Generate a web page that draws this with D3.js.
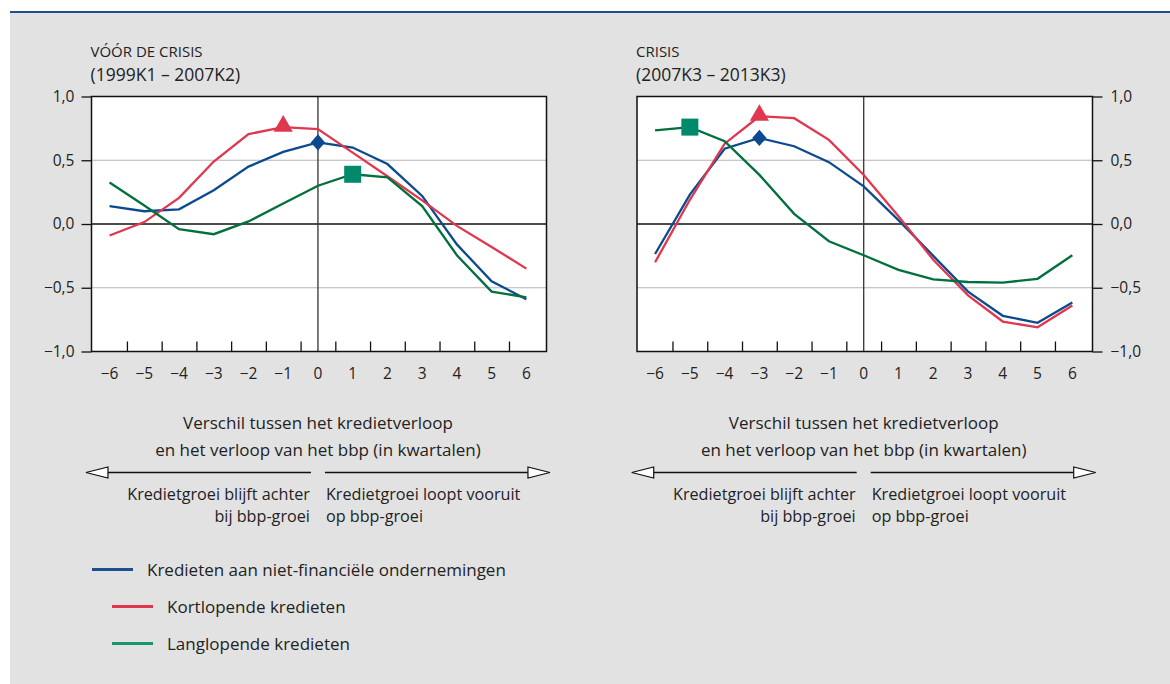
<!DOCTYPE html>
<head>
    <meta charset="utf-8">
    <title>Kredietverloop en bbp</title>
    <style>
        body { margin: 0; background: #fff; }
        text { font-family: "Open Sans", "Noto Sans", sans-serif; fill: #222; }
    </style>
</head>
<body>

<svg width="1170" height="684"></svg>

<script src="https://cdnjs.cloudflare.com/ajax/libs/d3/7.8.5/d3.min.js"></script>

<script>

// kwartalen verschil
var quarters = [-6, -5, -4, -3, -2, -1, 0, 1, 2, 3, 4, 5, 6];
var yTicks = [-1, -0.5, 0, 0.5, 1];
var xTickLabels = ['\u22126', '\u22125', '\u22124', '\u22123', '\u22122', '\u22121', '0', '1', '2', '3', '4', '5', '6'];

// vóór de crisis (1999K1 - 2007K2)
var preTotal = [0.14, 0.10, 0.115, 0.265, 0.45, 0.565, 0.64, 0.60, 0.47, 0.22, -0.16, -0.45, -0.59];
var preShort = [-0.09, 0.015, 0.205, 0.49, 0.705, 0.76, 0.745, 0.56, 0.375, 0.185, -0.015, -0.18, -0.35];
var preLong  = [0.325, 0.145, -0.04, -0.08, 0.02, 0.16, 0.30, 0.39, 0.365, 0.14, -0.245, -0.53, -0.575];

// crisis (2007K3 - 2013K3)
var crisisTotal = [-0.235, 0.23, 0.59, 0.675, 0.61, 0.485, 0.295, 0.03, -0.25, -0.53, -0.72, -0.775, -0.615];
var crisisShort = [-0.30, 0.19, 0.63, 0.845, 0.83, 0.66, 0.385, 0.06, -0.28, -0.56, -0.765, -0.81, -0.64];
var crisisLong  = [0.735, 0.76, 0.65, 0.385, 0.08, -0.135, -0.245, -0.36, -0.435, -0.455, -0.46, -0.43, -0.245];

var seriesNames = ['Kredieten aan niet-financi\u00eble ondernemingen', 'Kortlopende kredieten', 'Langlopende kredieten'];
var lineColors = ['#0b4a8f', '#e0374f', '#00703c'];
var legendColors = ['#1d4f91', '#e0374f', '#16976c'];

var svg = d3.select('svg');

// achtergrond
svg.append('rect')
    .attr('x', 10).attr('y', 13)
    .attr('width', 1160).attr('height', 671)
    .attr('fill', '#e2e2e2');
svg.append('line')
    .attr('x1', 10).attr('x2', 1170)
    .attr('y1', 12).attr('y2', 12)
    .attr('stroke', '#1d4f91').attr('stroke-width', 2);

function panel(opts) {
    var x = d3.scaleLinear().domain([-6.52, 6.58]).range([opts.left, opts.right]);
    var y = d3.scaleLinear().domain([-1, 1]).range([351.5, 96.5]);
    var g = svg.append('g');

    g.append('text').attr('x', opts.left - 1).attr('y', 57).style('font-size', '15px').text(opts.title1);
    g.append('text').attr('x', opts.left - 1).attr('y', 81).style('font-size', '17.5px').text(opts.title2);

    g.append('rect')
        .attr('x', x(-6.52)).attr('y', y(1))
        .attr('width', x(6.58) - x(-6.52)).attr('height', y(-1) - y(1))
        .attr('fill', '#fff');

    // rasterlijnen
    g.selectAll('.grid')
        .data([-0.5, 0.5])
        .enter().append('line')
            .attr('x1', x(-6.52)).attr('x2', x(6.58))
            .attr('y1', d => y(d)).attr('y2', d => y(d))
            .attr('stroke', '#b5b5b5').attr('stroke-width', 1.2);
    g.append('line')
        .attr('x1', x(-6.52)).attr('x2', x(6.58))
        .attr('y1', y(0)).attr('y2', y(0))
        .attr('stroke', '#111').attr('stroke-width', 1.3);
    g.append('line')
        .attr('x1', x(0)).attr('x2', x(0))
        .attr('y1', y(1)).attr('y2', y(-1))
        .attr('stroke', '#333').attr('stroke-width', 1.3);

    // x-as: kleine streepjes tussen de kwartalen
    var half = quarters.slice(1).map(q => q - 0.5);
    var xAxis = d3.axisBottom(x).tickValues(half).tickSize(-10).tickFormat('');
    var xa = g.append('g').attr('transform', `translate(0,${y(-1)})`).call(xAxis);
    xa.select('.domain').remove();
    xa.selectAll('line').attr('stroke', '#111').attr('stroke-width', 1.3);

    g.selectAll('.xlab')
        .data(quarters)
        .enter().append('text')
            .attr('x', d => x(d))
            .attr('y', 379)
            .attr('text-anchor', 'middle')
            .style('font-size', '15.5px')
            .text((d, i) => xTickLabels[i]);

    // y-as
    var fmt = d => (d < 0 ? '\u2212' : '') + d3.format('.1f')(Math.abs(d)).replace('.', ',');
    var yAxis = (opts.rightAxis ? d3.axisRight(y) : d3.axisLeft(y))
        .tickValues(yTicks).tickSize(10).tickPadding(opts.rightAxis ? 8 : 7).tickFormat(fmt);
    var ya = g.append('g')
        .attr('transform', `translate(${opts.rightAxis ? x(6.58) : x(-6.52)},0)`)
        .call(yAxis);
    ya.select('.domain').remove();
    ya.selectAll('line').attr('stroke', '#111').attr('stroke-width', 1.3);
    ya.selectAll('text').style('font-size', '15.5px').attr('fill', '#222')
        .style('font-family', '"Open Sans", sans-serif');

    // lijnen
    var line = d3.line().x((d, i) => x(quarters[i])).y(d => y(d));
    opts.series.forEach((s, k) => {
        g.append('path')
            .datum(s)
            .attr('d', line)
            .attr('fill', 'none')
            .attr('stroke', lineColors[k])
            .attr('stroke-width', 2.3);
    });

    // frame
    g.append('rect')
        .attr('x', x(-6.52)).attr('y', y(1))
        .attr('width', x(6.58) - x(-6.52)).attr('height', y(-1) - y(1))
        .attr('fill', 'none').attr('stroke', '#111').attr('stroke-width', 1.5);

    // markeringen
    var m = opts.markers;
    g.append('path')
        .attr('d', d3.symbol(d3.symbolDiamond2, 170)())
        .attr('transform', `translate(${x(m[0])},${y(opts.series[0][quarters.indexOf(m[0])])}) scale(0.88,1)`)
        .attr('fill', '#0b4a8f');
    g.append('path')
        .attr('d', d3.symbol(d3.symbolTriangle, 160)())
        .attr('transform', `translate(${x(m[1])},${y(opts.series[1][quarters.indexOf(m[1])]) - 1})`)
        .attr('fill', '#e0374f');
    var sq = 17;
    g.append('rect')
        .attr('x', x(m[2]) - sq / 2)
        .attr('y', y(opts.series[2][quarters.indexOf(m[2])]) - sq / 2)
        .attr('width', sq).attr('height', sq)
        .attr('fill', '#00896a');

    // as-titel
    var cx = x(0);
    g.append('text').attr('x', cx).attr('y', 429).attr('text-anchor', 'middle')
        .style('font-size', '17px').text('Verschil tussen het kredietverloop');
    g.append('text').attr('x', cx).attr('y', 456).attr('text-anchor', 'middle')
        .style('font-size', '17px').text('en het verloop van het bbp (in kwartalen)');

    // pijlen
    var ay = 472.5;
    g.append('line').attr('x1', cx - 7).attr('x2', cx - 210).attr('y1', ay).attr('y2', ay)
        .attr('stroke', '#111').attr('stroke-width', 1.3);
    g.append('line').attr('x1', cx + 7).attr('x2', cx + 210).attr('y1', ay).attr('y2', ay)
        .attr('stroke', '#111').attr('stroke-width', 1.3);
    g.append('path')
        .attr('d', `M${cx - 232},${ay} L${cx - 210},${ay - 5.5} L${cx - 210},${ay + 5.5} Z`)
        .attr('fill', '#fff').attr('stroke', '#111').attr('stroke-width', 1.2);
    g.append('path')
        .attr('d', `M${cx + 232},${ay} L${cx + 210},${ay - 5.5} L${cx + 210},${ay + 5.5} Z`)
        .attr('fill', '#fff').attr('stroke', '#111').attr('stroke-width', 1.2);

    g.append('text').attr('x', cx - 8).attr('y', 500).attr('text-anchor', 'end')
        .style('font-size', '16.2px').text('Kredietgroei blijft achter');
    g.append('text').attr('x', cx - 8).attr('y', 522).attr('text-anchor', 'end')
        .style('font-size', '16.2px').text('bij bbp-groei');
    g.append('text').attr('x', cx + 8).attr('y', 500).attr('text-anchor', 'start')
        .style('font-size', '16.2px').text('Kredietgroei loopt vooruit');
    g.append('text').attr('x', cx + 8).attr('y', 522).attr('text-anchor', 'start')
        .style('font-size', '16.2px').text('op bbp-groei');
}

panel({
    left: 91.5, right: 546.5, rightAxis: false,
    title1: 'V\u00d3\u00d3R DE CRISIS', title2: '(1999K1 \u2013 2007K2)',
    series: [preTotal, preShort, preLong],
    markers: [0, -1, 1]
});

panel({
    left: 637, right: 1092.5, rightAxis: true,
    title1: 'CRISIS', title2: '(2007K3 \u2013 2013K3)',
    series: [crisisTotal, crisisShort, crisisLong],
    markers: [-3, -3, -5]
});

// legenda
var legendX = [92, 112, 112];
var legendY = [569.5, 606.5, 643.5];
var legend = svg.selectAll('.legend')
    .data(seriesNames)
    .enter().append('g')
        .attr('class', 'legend')
        .attr('transform', (d, i) => `translate(${legendX[i]},${legendY[i]})`);
legend.append('line')
    .attr('x1', 0).attr('x2', 41)
    .attr('stroke', (d, i) => legendColors[i])
    .attr('stroke-width', 3);
legend.append('text')
    .attr('x', 55).attr('dy', 6)
    .style('font-size', '17px')
    .text(d => d);

</script>

</body>
